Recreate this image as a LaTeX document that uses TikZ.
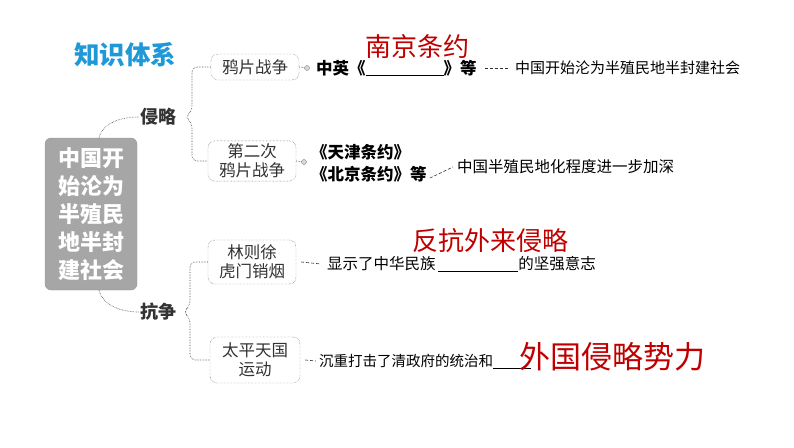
\documentclass[tikz,border=0pt]{standalone}
\usepackage{fontspec}
\setmainfont{Noto Sans CJK SC}
\definecolor{ansred}{RGB}{192,0,0}
\definecolor{titleblue}{RGB}{30,152,215}
\definecolor{linegray}{RGB}{70,70,70}
\begin{document}
\begin{tikzpicture}[x=1pt,y=-1pt,
  titletext/.style={text=titleblue,font=\fontsize{25.5}{28}\selectfont\bfseries},
  rootbox/.style={fill=gray!70,draw=gray!80,rounded corners=6pt,text=white,align=center,
    minimum width=92pt,minimum height=152pt,inner sep=2pt,
    font=\fontsize{22}{28}\selectfont\bfseries},
  cattext/.style={font=\fontsize{18}{20}\selectfont\bfseries,text=black!80,inner sep=1pt},
  branchbox/.style={draw=linegray,densely dotted,rounded corners=7pt,align=center,
    minimum width=88pt,inner sep=3pt,font=\fontsize{16.5}{19}\selectfont,text=black!80},
  link/.style={draw=linegray,densely dotted,line width=0.6pt},
  dashlink/.style={draw=black!80,dashed,dash pattern=on 3pt off 2pt,line width=0.6pt},
  bulletdot/.style={circle,draw=gray,fill=gray!30,inner sep=0pt,minimum size=5pt},
  boldtext/.style={font=\fontsize{16.5}{19}\selectfont\bfseries,inner sep=0pt,anchor=west},
  plaintext/.style={font=\fontsize{15}{18}\selectfont,inner sep=0pt,anchor=west},
  answer/.style={text=ansred,inner sep=0pt}]
\useasboundingbox (0,0) rectangle (794,447);

\node[titletext] (title) at (125,55) {知识体系};
\node[rootbox] (root) at (91,214) {中国开\\始沦为\\半殖民\\地半封\\建社会};
\node[cattext] (qinlue) at (158,117) {侵略};
\node[cattext] (kangzheng) at (158,312) {抗争};

\node[branchbox,minimum height=26pt] (b1) at (255,67) {鸦片战争};
\node[branchbox,minimum height=40pt] (b2) at (252,161) {第二次\\鸦片战争};
\node[branchbox,minimum height=44pt] (b3) at (252,262) {林则徐\\虎门销烟};
\node[branchbox,minimum height=46pt,minimum width=90pt] (b4) at (255,360) {太平天国\\运动};

% links from root
\draw[link] ([xshift=8pt]root.north) .. controls +(4,-16) and +(-16,0) .. (qinlue.west);
\draw[link] ([xshift=8pt]root.south) .. controls +(4,16) and +(-16,0) .. (kangzheng.west);

% braces
\draw[link,rounded corners=5pt] (b1.west) -- (192,67) -- (192,111) -- (185,117) -- (192,123) -- (192,161) -- (b2.west);
\draw[link,rounded corners=5pt] (b3.west) -- (190,262) -- (190,306) -- (183,312) -- (190,318) -- (190,360) -- (b4.west);

% row 1
\node[bulletdot] (d1) at (307,68) {};
\draw[link] (b1.east) -- (d1);
\node[boldtext] (t1a) at (316,68) {中英《\rule[-2pt]{78pt}{0.7pt}》等};
\node[plaintext] (t1c) at (515,68) {中国开始沦为半殖民地半封建社会};
\draw[dashlink] ([xshift=8pt]t1a.east) -- ([xshift=-6pt]t1c.west);
\node[answer,font=\fontsize{26}{28}\selectfont] (a1) at (417,47) {南京条约};

% row 2
\node[bulletdot] (d2) at (304,162) {};
\draw[link] (b2.east) -- (d2);
\node[boldtext] (t2a) at (311,152) {《天津条约》};
\node[boldtext] (t2b) at (311,174) {《北京条约》等};
\node[plaintext,font=\fontsize{15.5}{18}\selectfont] (t2c) at (457,167) {中国半殖民地化程度进一步加深};
\draw[dashlink] ([xshift=3pt,yshift=-4pt]t2b.east) -- ([xshift=-4pt]t2c.west);

% row 3
\node[plaintext,font=\fontsize{15.5}{18}\selectfont] (t3a) at (327,264) {显示了中华民族\,\rule[-2pt]{80pt}{0.6pt}的坚强意志};
\draw[dashlink] ([xshift=5pt]b3.east) -- ([xshift=-6pt]t3a.west);
\node[answer,font=\fontsize{26}{28}\selectfont] (a3) at (490,241) {反抗外来侵略};

% row 4
\node[plaintext,font=\fontsize{14.5}{17}\selectfont] (t4a) at (319,361) {沉重打击了清政府的统治和\rule[-2pt]{38pt}{0.6pt}};
\draw[dashlink] ([xshift=5pt]b4.east) -- ([xshift=-3pt]t4a.west);
\node[answer,font=\fontsize{31}{33}\selectfont] (a4) at (612,357) {外国侵略势力};
\end{tikzpicture}
\end{document}
